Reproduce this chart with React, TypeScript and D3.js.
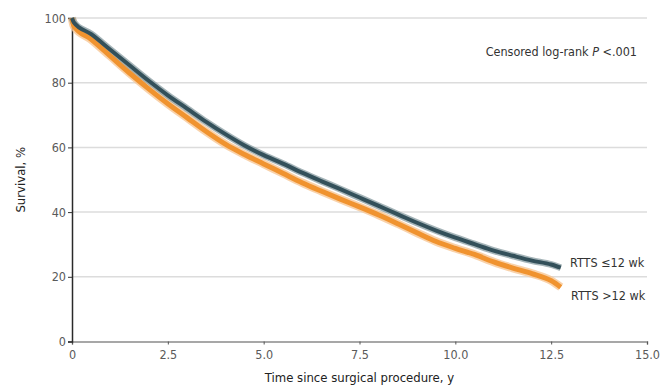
import * as d3 from 'd3';
import { useRef, useEffect } from 'react';

// Time since surgical procedure (years) at which survival was read
const years = [0, 0.05, 0.5, 1.0, 1.5, 2.0, 2.5, 3.0, 3.5, 4.0, 4.5, 5.0, 5.5, 6.0, 6.5, 7.0, 7.5, 8.0, 8.5, 9.0, 9.5, 10.0, 10.5, 11.0, 11.5, 12.0, 12.5, 12.75];

// Survival, % for RTTS <=12 wk
const survivalEarly = [100, 98.6, 95.0, 90.2, 85.4, 80.6, 76.1, 72.0, 67.9, 64.1, 60.6, 57.6, 55.0, 52.2, 49.6, 47.1, 44.5, 41.9, 39.3, 36.7, 34.3, 32.1, 30.1, 28.1, 26.5, 25.0, 23.8, 22.8];

// Survival, % for RTTS >12 wk
const survivalLate = [100, 97.5, 93.4, 88.2, 83.0, 78.1, 73.5, 69.2, 64.9, 61.0, 57.8, 54.9, 52.0, 49.1, 46.5, 44.0, 41.6, 39.1, 36.4, 33.6, 30.9, 28.8, 26.9, 24.6, 22.7, 21.0, 18.8, 16.8];

const xTicks = [0, 2.5, 5.0, 7.5, 10.0, 12.5, 15.0];
const xTickLabels = ['0', '2.5', '5.0', '7.5', '10.0', '12.5', '15.0'];
const yTicks = [0, 20, 40, 60, 80, 100];

const seriesNames = ['RTTS \u226412 wk', 'RTTS >12 wk'];

export default function App() {
    const ref = useRef(null);

    useEffect(() => {
        document.body.style.margin = '0';

        const width = 661;
        const height = 387;
        const margin = { top: 18, right: 14, bottom: 45.5, left: 72 };
        const font = '"Liberation Sans Narrow", "DejaVu Sans Condensed", "Arial Narrow", sans-serif';

        const svg = d3.select(ref.current)
            .attr('width', width)
            .attr('height', height)
            .style('display', 'block')
            .style('font-family', font);

        svg.selectAll('*').remove();

        const xScale = d3.scaleLinear()
            .domain([0, 15])
            .range([margin.left, width - margin.right]);

        const yScale = d3.scaleLinear()
            .domain([0, 100])
            .range([height - margin.bottom, margin.top]);

        // Gridlines
        svg.append('g')
            .selectAll('line')
            .data(yTicks.filter(d => d > 0))
            .enter().append('line')
            .attr('x1', xScale(0))
            .attr('x2', xScale(15))
            .attr('y1', d => yScale(d))
            .attr('y2', d => yScale(d))
            .attr('stroke', '#dcdcdc')
            .attr('stroke-width', 1.5);

        // X axis
        const xAxis = d3.axisBottom(xScale)
            .tickValues(xTicks)
            .tickFormat((d, i) => xTickLabels[i])
            .tickSize(3)
            .tickPadding(6);

        const gx = svg.append('g')
            .attr('transform', `translate(0, ${yScale(0)})`)
            .call(xAxis);
        gx.select('.domain').attr('stroke', '#8a8a8a').attr('stroke-width', 1.5);
        gx.selectAll('.tick line').attr('stroke', '#555');
        gx.selectAll('.tick text')
            .attr('fill', '#5a5a5a')
            .style('font-size', '12.5px')
            .style('font-family', font);

        // Y axis
        const yAxis = d3.axisLeft(yScale)
            .tickValues(yTicks)
            .tickSize(4)
            .tickPadding(2);

        const gy = svg.append('g')
            .attr('transform', `translate(${xScale(0)}, 0)`)
            .call(yAxis);
        gy.select('.domain').attr('stroke', '#2a2a2a').attr('stroke-width', 1.5);
        gy.selectAll('.tick line').attr('stroke', '#333');
        gy.selectAll('.tick text')
            .attr('fill', '#5a5a5a')
            .style('font-size', '12.5px')
            .style('font-family', font);

        // Axis titles
        svg.append('text')
            .attr('x', (xScale(0) + xScale(15)) / 2)
            .attr('y', 382)
            .attr('text-anchor', 'middle')
            .style('font-size', '13px')
            .style('fill', '#222')
            .text('Time since surgical procedure, y');

        svg.append('text')
            .attr('transform', `translate(25, ${(yScale(0) + yScale(100)) / 2}) rotate(-90)`)
            .attr('text-anchor', 'middle')
            .style('font-size', '13px')
            .style('fill', '#222')
            .text('Survival, %');

        // Survival curves
        const line = d3.line()
            .x(d => xScale(d[0]))
            .y(d => yScale(d[1]))
            .curve(d3.curveMonotoneX);

        const early = years.map((t, i) => [t, survivalEarly[i]]);
        const late = years.map((t, i) => [t, survivalLate[i]]);

        // confidence halos
        svg.append('path')
            .datum(late)
            .attr('fill', 'none')
            .attr('stroke', '#f8c795')
            .attr('stroke-width', 8.5)
            .attr('stroke-linejoin', 'round')
            .attr('opacity', 0.8)
            .attr('d', line);

        svg.append('path')
            .datum(early)
            .attr('fill', 'none')
            .attr('stroke', '#8fa1a6')
            .attr('stroke-width', 7)
            .attr('stroke-linejoin', 'round')
            .attr('opacity', 0.8)
            .attr('d', line);

        svg.append('path')
            .datum(late)
            .attr('fill', 'none')
            .attr('stroke', '#f0932f')
            .attr('stroke-width', 5)
            .attr('stroke-linejoin', 'round')
            .attr('d', line);

        svg.append('path')
            .datum(early)
            .attr('fill', 'none')
            .attr('stroke', '#33505a')
            .attr('stroke-width', 4)
            .attr('stroke-linejoin', 'round')
            .attr('d', line);

        // Series labels
        const last = years.length - 1;
        svg.append('text')
            .attr('x', 570)
            .attr('y', yScale(survivalEarly[last]) - 4)
            .attr('dominant-baseline', 'middle')
            .style('font-size', '12.5px')
            .style('fill', '#333')
            .text(seriesNames[0]);

        svg.append('text')
            .attr('x', 571)
            .attr('y', yScale(survivalLate[last]) + 9)
            .attr('dominant-baseline', 'middle')
            .style('font-size', '12.5px')
            .style('fill', '#333')
            .text(seriesNames[1]);

        // Log-rank annotation
        const note = svg.append('text')
            .attr('x', 637)
            .attr('y', 56)
            .attr('text-anchor', 'end')
            .style('font-size', '12.5px')
            .style('fill', '#333');
        note.append('tspan').text('Censored log-rank ');
        note.append('tspan').style('font-style', 'italic').text('P');
        note.append('tspan').text(' <.001');
    }, []);

    return (
        <svg ref={ref}></svg>
    );
}
